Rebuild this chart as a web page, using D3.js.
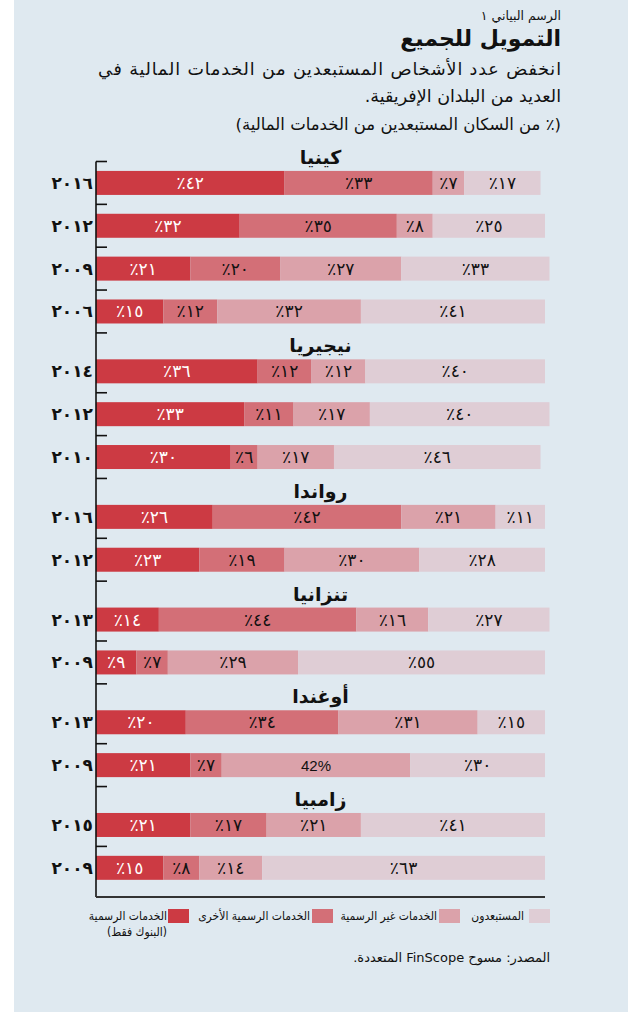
<!DOCTYPE html>
<html lang="ar">
<head>
<meta charset="utf-8">
<script src="https://cdn.jsdelivr.net/npm/d3@7"></script>
<style>
  html, body { margin: 0; padding: 0; background: #fff; }
  svg { display: block; font-family: "DejaVu Sans", sans-serif; }
</style>
</head>
<body>
<svg id="chart" width="644" height="1012"></svg>
<script>
// data
const countries = ["كينيا", "نيجيريا", "رواندا", "تنزانيا", "أوغندا", "زامبيا"];
const rowCountry = [0, 0, 0, 0, 1, 1, 1, 2, 2, 3, 3, 4, 4, 5, 5];
const yearLabels = ["٢٠١٦", "٢٠١٢", "٢٠٠٩", "٢٠٠٦", "٢٠١٤", "٢٠١٢", "٢٠١٠", "٢٠١٦", "٢٠١٢", "٢٠١٣", "٢٠٠٩", "٢٠١٣", "٢٠٠٩", "٢٠١٥", "٢٠٠٩"];

const banks       = [42, 32, 21, 15, 36, 33, 30, 26, 23, 14,  9, 20, 21, 21, 15];
const otherFormal = [33, 35, 20, 12, 12, 11,  6, 42, 19, 44,  7, 34,  7, 17,  8];
const informal    = [ 7,  8, 27, 32, 12, 17, 17, 21, 30, 16, 29, 31, 42, 21, 14];
const excluded    = [17, 25, 33, 41, 40, 40, 46, 11, 28, 27, 55, 15, 30, 41, 63];

const seriesKeys = ["banks", "otherFormal", "informal", "excluded"];
const seriesNames = ["الخدمات الرسمية", "الخدمات الرسمية الأخرى", "الخدمات غير الرسمية", "المستبعدون"];
const colors = ["#cc3a43", "#d36f77", "#dba2aa", "#dfcdd5"];

// one odd label is printed in latin digits in the original
const specialLabels = { "12-informal": "42%" };

const arabicDigits = "٠١٢٣٤٥٦٧٨٩";
function toArabic(n) {
	return String(n).replace(/[0-9]/g, d => arabicDigits[+d]);
}

const rows = yearLabels.map((y, i) => ({
	i: i,
	country: rowCountry[i],
	year: y,
	banks: banks[i],
	otherFormal: otherFormal[i],
	informal: informal[i],
	excluded: excluded[i]
}));

const svg = d3.select("#chart");

// panel
svg.append("rect").attr("x", 14).attr("y", 0).attr("width", 614).attr("height", 1012).attr("fill", "#dfe9f0");

// header
const hx = 561;
function rtlText(x, y, txt, size, weight) {
	return svg.append("text")
		.attr("x", x).attr("y", y)
		.attr("direction", "rtl")
		.attr("text-anchor", "start")
		.attr("font-size", size)
		.attr("font-weight", weight || "normal")
		.attr("fill", "#111")
		.text(txt);
}
rtlText(hx, 20, "الرسم البياني ١", 12.5);
rtlText(hx, 46, "التمويل للجميع", 22, "bold");
rtlText(hx, 75, "انخفض عدد الأشخاص المستبعدين من الخدمات المالية في", 17.5)
	.attr("textLength", 463).attr("lengthAdjust", "spacing");
rtlText(hx, 102, "العديد من البلدان الإفريقية.", 17.5);
rtlText(hx, 130, "(٪ من السكان المستبعدين من الخدمات المالية)", 16.5);

// layout: every row is one unit, a country header adds a fraction of one
const step = 42.85;
const headerUnits = 17 / step;
const rowStart = rows.map(r => r.i + (r.country > 0 ? r.country * headerUnits : 0));
const totalUnits = rows.length + (countries.length - 1) * headerUnits;

const y = d3.scaleLinear().domain([0, totalUnits]).range([161.5, 161.5 + totalUnits * step]);
const x = d3.scaleLinear().domain([0, 100]).range([96, 545]);
const barH = 24;

const stack = d3.stack().keys(seriesKeys);
const stacked = stack(rows);

const g = svg.append("g");

stacked.forEach((layer, k) => {
	g.append("g").selectAll("rect")
		.data(layer)
		.join("rect")
		.attr("x", d => x(d[0]))
		.attr("width", d => x(d[1]) - x(d[0]))
		.attr("y", (d, i) => y(rowStart[i] + 0.5) - barH / 2)
		.attr("height", barH)
		.attr("fill", colors[k]);

	g.append("g").selectAll("text")
		.data(layer)
		.join("text")
		.attr("x", d => (x(d[0]) + x(d[1])) / 2)
		.attr("y", (d, i) => y(rowStart[i] + 0.5) + 6)
		.attr("text-anchor", "middle")
		.attr("font-size", (d, i) => specialLabels[i + "-" + layer.key] ? 15 : 17)
		.attr("font-family", (d, i) => specialLabels[i + "-" + layer.key] ? "Liberation Sans, sans-serif" : null)
		.attr("fill", k === 0 ? "#fff" : "#111")
		.attr("direction", (d, i) => specialLabels[i + "-" + layer.key] ? "ltr" : "rtl")
		.text((d, i) => specialLabels[i + "-" + layer.key] || (toArabic(d.data[layer.key]) + "٪"));
});

// axis
const axisTop = y(0);
const axisBottom = 897;
g.append("line")
	.attr("x1", x(0)).attr("x2", x(0))
	.attr("y1", axisTop).attr("y2", axisBottom)
	.attr("stroke", "#111").attr("stroke-width", 1.6);
g.append("line")
	.attr("x1", x(0)).attr("x2", x(100))
	.attr("y1", axisBottom).attr("y2", axisBottom)
	.attr("stroke", "#333").attr("stroke-width", 2);

const tickYs = [y(0)].concat(rows.map((r, i) => y(rowStart[i] + 1)));
g.append("g").selectAll("line")
	.data(tickYs.slice(0, -1))
	.join("line")
	.attr("x1", x(0)).attr("x2", x(0) + 11)
	.attr("y1", d => d).attr("y2", d => d)
	.attr("stroke", "#111").attr("stroke-width", 1.6);

// year labels
g.append("g").selectAll("text")
	.data(rows)
	.join("text")
	.attr("x", x(0) - 3)
	.attr("y", (d, i) => y(rowStart[i] + 0.5) + 6)
	.attr("text-anchor", "end")
	.attr("font-size", 17)
	.attr("font-weight", "bold")
	.attr("fill", "#111")
	.text(d => d.year);

// country headers
const firstRow = countries.map((c, ci) => rows.findIndex(r => r.country === ci));
g.append("g").selectAll("text")
	.data(countries)
	.join("text")
	.attr("x", (x(0) + x(100)) / 2)
	.attr("y", (d, ci) => y(rowStart[firstRow[ci]] + 0.5) - barH / 2 - 7)
	.attr("text-anchor", "middle")
	.attr("direction", "rtl")
	.attr("font-size", 19)
	.attr("font-weight", "bold")
	.attr("fill", "#111")
	.text(d => d);

// legend
const legendItems = [
	{ sw: 529, tx: 524, c: 3 },
	{ sw: 439, tx: 437, c: 2 },
	{ sw: 312, tx: 310, c: 1 },
	{ sw: 168, tx: 167, c: 0 }
];
const legFont = "DejaVu Sans Condensed, DejaVu Sans, sans-serif";
const leg = svg.append("g");
legendItems.forEach(it => {
	leg.append("rect")
		.attr("x", it.sw).attr("y", 909)
		.attr("width", 21).attr("height", 14)
		.attr("fill", colors[it.c]);
	leg.append("text")
		.attr("x", it.tx).attr("y", 920)
		.attr("direction", "rtl").attr("text-anchor", "start")
		.attr("font-family", legFont)
		.attr("font-size", 12).attr("fill", "#111")
		.text(seriesNames[it.c]);
});
leg.append("text")
	.attr("x", 167).attr("y", 936)
	.attr("direction", "rtl").attr("text-anchor", "start")
	.attr("font-family", legFont)
	.attr("font-size", 12).attr("fill", "#111")
	.text("(البنوك فقط)");

// source
rtlText(550, 962, "المصدر: مسوح FinScope المتعددة.", 13);
</script>
</body>
</html>
